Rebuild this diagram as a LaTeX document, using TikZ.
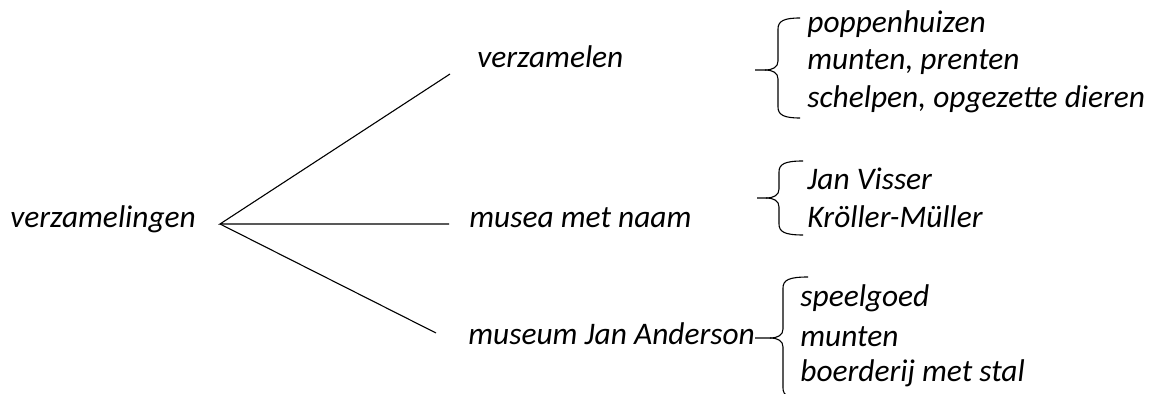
\documentclass[tikz,border=0pt]{standalone}
\usepackage{fontspec}
\setmainfont{Carlito}
\tikzset{
	term/.style={anchor=base west,inner sep=0pt,font=\fontsize{15.7}{19}\selectfont\itshape},
	branch/.style={line width=0.55pt}
}
% curly bracket: tip name, x of stub end, x of spine, x of hook ends, y top, y tip, y bottom
\newcommand\wordbrace[7]{%
	\coordinate (#1) at (#2,#6);
	\draw[branch] (#4,#5) .. controls ({#3+6},#5) and (#3,{#5+3}) .. (#3,{#5+11})
		-- (#3,{#6-9}) .. controls (#3,{#6-3}) and ({#3-5},#6) .. ({#3-13},#6) -- (#1);
	\draw[branch] (#4,#7) .. controls ({#3+6},#7) and (#3,{#7-3}) .. (#3,{#7-11})
		-- (#3,{#6+9}) .. controls (#3,{#6+3}) and ({#3-5},#6) .. ({#3-13},#6);
}
\begin{document}
\begin{tikzpicture}[x=0.5pt,y=-0.5pt]
	\useasboundingbox (0,0) rectangle (1157,394);
	\node[term] (root) at (10,228) {verzamelingen};
	\node[term] (collect) at (477,68) {verzamelen};
	\node[term] (named) at (469,228) {musea met naam};
	\node[term] (anderson) at (468,345) {museum Jan Anderson};
	% the fan
	\coordinate (fork) at (220,224);
	\coordinate (toCollect) at (450,74);
	\coordinate (toNamed) at (449,224);
	\coordinate (toAnderson) at (436,333);
	\draw[branch] (toCollect) -- (fork) -- (toNamed);
	\draw[branch] (fork) -- (toAnderson);
	% lists
	\wordbrace{b1}{755}{778}{800}{18}{70}{118}
	\node[term] (doll) at (807,33) {poppenhuizen};
	\node[term] (coin) at (807,70) {munten, prenten};
	\node[term] (shell) at (807,108) {schelpen, opgezette dieren};
	\wordbrace{b2}{757}{779}{803}{161}{198}{235}
	\node[term] (visser) at (807,190) {Jan Visser};
	\node[term] (kroller) at (807,228) {Kröller-Müller};
	\wordbrace{b3}{755}{783}{808}{277}{338}{399}
	\node[term] (toys) at (800,307) {speelgoed};
	\node[term] (coins) at (800,347) {munten};
	\node[term] (farm) at (800,382) {boerderij met stal};
\end{tikzpicture}
\end{document}
